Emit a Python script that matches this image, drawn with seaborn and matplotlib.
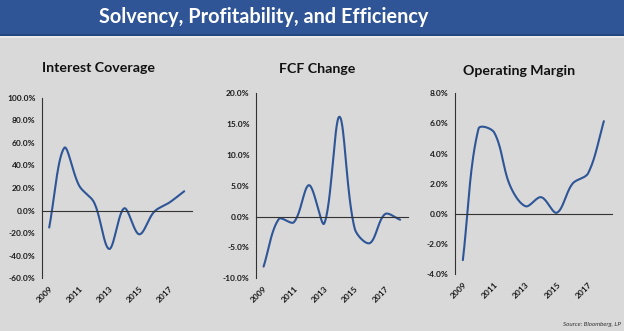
import numpy as np
import pandas as pd
import matplotlib
matplotlib.use("Agg")
import matplotlib.pyplot as plt
from matplotlib.patches import Rectangle
from matplotlib.ticker import FuncFormatter
import seaborn as sns

# ---------------- data ----------------
years = [2009, 2010, 2011, 2012, 2013, 2014, 2015, 2016, 2017, 2018]
year_labels = ["2009", "2011", "2013", "2015", "2017"]

interest_coverage = [-0.15, 0.555, 0.22, 0.07, -0.34, 0.02, -0.21, -0.01, 0.07, 0.171]
fcf_change = [-0.081, -0.004, -0.009, 0.051, -0.011, 0.162, -0.019, -0.043, 0.004, -0.005]
operating_margin = [-0.0308, 0.0565, 0.054, 0.019, 0.005, 0.011, 0.0007, 0.020, 0.027, 0.0615]

titles = ["Interest Coverage", "FCF Change", "Operating Margin"]
series = [interest_coverage, fcf_change, operating_margin]
ylims = [(-0.6, 1.0), (-0.10, 0.20), (-0.04, 0.08)]
ysteps = [0.2, 0.05, 0.02]

# ---------------- style ----------------
sns.set_theme(style="white")
plt.rcParams["font.family"] = ["Lato", "DejaVu Sans"]

BG = "#d9d9d9"
BLUE = "#2f5597"
LINE = "#2e5596"
TXT = "#1a1a1a"

W, H = 624, 331
fig = plt.figure(figsize=(W / 100, H / 100), dpi=100, facecolor=BG)

# banner
fig.patches.append(Rectangle((0, 1 - 35.5 / H), 1, 35.5 / H, transform=fig.transFigure,
                             facecolor=BLUE, edgecolor="none", zorder=0))
fig.patches.append(Rectangle((0, 1 - 35.5 / H), 1, 1.2 / H, transform=fig.transFigure,
                             facecolor="#24477f", edgecolor="none", zorder=1))
fig.patches.append(Rectangle((0, 1 - 37.5 / H), 1, 2.0 / H, transform=fig.transFigure,
                             facecolor="#e9e9e9", edgecolor="none", zorder=1))
fig.text(263.5 / W, 1 - 17 / H, "Solvency, Profitability, and Efficiency",
         ha="center", va="center", color="white", fontsize=14.3, fontweight="bold")


def smooth(xs, ys, sx, sy, n=30):
    """Excel-like smoothed line: Bezier through the data points, tangent
    split in proportion to neighbouring segment lengths (screen space)."""
    pts = np.column_stack([np.asarray(xs, float) * sx, np.asarray(ys, float) * sy])
    m = len(pts)
    cout = np.zeros_like(pts)
    cin = np.zeros_like(pts)
    for i in range(m):
        p0 = pts[max(i - 1, 0)]
        p2 = pts[min(i + 1, m - 1)]
        p1 = pts[i]
        d01 = np.hypot(*(p1 - p0))
        d12 = np.hypot(*(p2 - p1))
        tot = d01 + d12 if (d01 + d12) > 0 else 1.0
        tan = (p2 - p0)
        cout[i] = p1 + tan * (d12 / tot) / 3.0
        cin[i] = p1 - tan * (d01 / tot) / 3.0
    out = []
    for i in range(m - 1):
        p1, p2 = pts[i], pts[i + 1]
        c1, c2 = cout[i], cin[i + 1]
        t = np.linspace(0, 1, n, endpoint=(i == m - 2))[:, None]
        B = (1 - t) ** 3 * p1 + 3 * (1 - t) ** 2 * t * c1 + 3 * (1 - t) * t ** 2 * c2 + t ** 3 * p2
        out.append(B)
    B = np.vstack(out)
    return B[:, 0] / sx, B[:, 1] / sy


# axes boxes in pixels: left, right, top, bottom
boxes = [(41.7, 191.7, 97.7, 278.3), (256.0, 407.7, 93.3, 278.3), (455.0, 611.7, 93.3, 274.0)]
title_pos = [(98.8, 68.3), (317.0, 69.0), (519.0, 70.7)]

for k in range(3):
    l, r, t, b = boxes[k]
    ax = fig.add_axes([l / W, 1 - b / H, (r - l) / W, (b - t) / H])
    ax.set_facecolor("none")
    idx = np.arange(len(years))
    df = pd.DataFrame({"year": years, "value": series[k]})
    lo, hi = ylims[k]
    sx = (r - l) / len(years)
    sy = (b - t) / (hi - lo)
    cx, cy = smooth(idx, df["value"].values, sx, sy)
    sns.lineplot(x=cx, y=cy, sort=False, estimator=None, ax=ax,
                 color=LINE, linewidth=1.5)

    ax.set_ylim(lo, hi)
    ax.set_xlim(-0.5, len(years) - 0.5)
    ax.set_yticks(np.arange(lo, hi + ysteps[k] / 2, ysteps[k]))
    ax.yaxis.set_major_formatter(FuncFormatter(lambda v, p: f"{v * 100:.1f}%"))
    ax.tick_params(axis="y", length=2.5, width=0.8, color="#333333", direction="out",
                   pad=2, labelsize=6, labelcolor=TXT)
    for lab in ax.get_yticklabels():
        lab.set_fontweight("bold")

    # x axis crossing at zero, tick marks between categories
    for s in ["top", "right"]:
        ax.spines[s].set_visible(False)
    ax.spines["bottom"].set_position(("data", 0))
    for s in ["left", "bottom"]:
        ax.spines[s].set_color("#333333")
        ax.spines[s].set_linewidth(0.8)
    ax.set_xticks(np.arange(0.5, len(years), 1.0))
    ax.tick_params(axis="x", length=2.5, width=0.8, color="#333333", direction="out",
                   labelbottom=False)
    ax.set_xlabel("")
    ax.set_ylabel("")

    # category labels at bottom of plot area
    sec = ax.secondary_xaxis(0)
    sec.set_xticks(idx[::2])
    sec.set_xticklabels(year_labels, rotation=45, ha="right", rotation_mode="anchor",
                        fontsize=6, fontweight="bold", color=TXT)
    sec.tick_params(axis="x", length=0, pad=5)
    sec.spines["bottom"].set_visible(False)

    tx, ty = title_pos[k]
    fig.text(tx / W, 1 - ty / H, titles[k], ha="center", va="center",
             fontsize=10.2, fontweight="bold", color="#111111")

fig.text(621 / W, 1 - 324.7 / H, "Source: Bloomberg, LP", ha="right", va="center",
         fontsize=4.5, style="italic", color="#333333")

fig.savefig("out.png", dpi=100, facecolor=BG)
